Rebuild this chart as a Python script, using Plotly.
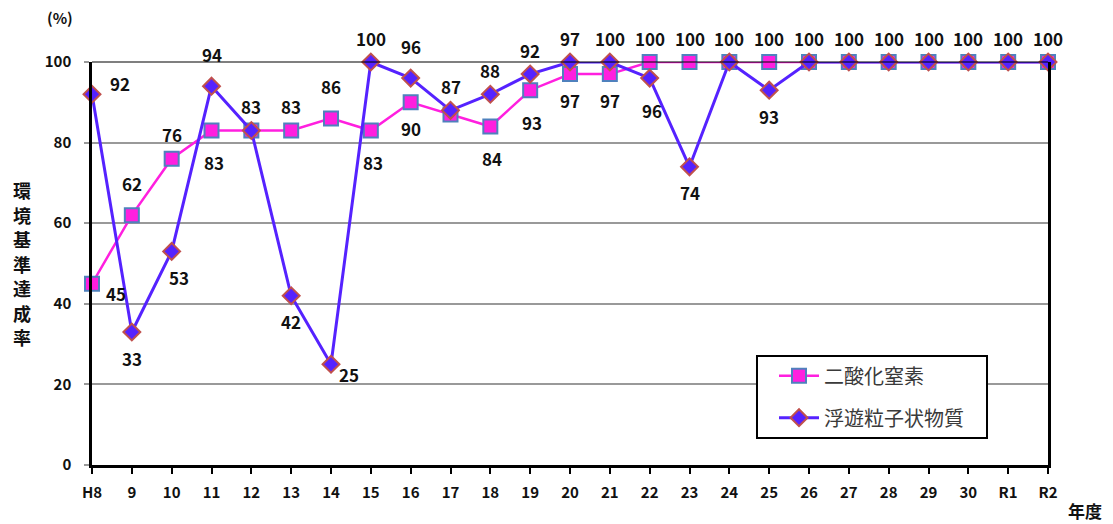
import plotly.graph_objects as go

years = ["H8", "9", "10", "11", "12", "13", "14", "15", "16", "17", "18", "19", "20",
         "21", "22", "23", "24", "25", "26", "27", "28", "29", "30", "R1", "R2"]
no2 = [45, 62, 76, 83, 83, 83, 86, 83, 90, 87, 84, 93, 97,
       97, 100, 100, 100, 100, 100, 100, 100, 100, 100, 100, 100]
spm = [92, 33, 53, 94, 83, 42, 25, 100, 96, 88, 92, 97, 100,
       100, 96, 74, 100, 93, 100, 100, 100, 100, 100, 100, 100]
# data-label texts as printed on the chart (None = no label)
no2_labels = ["45", "62", "76", "83", None, "83", "86", "83", "90", None, "84", "93", "97",
              "97", "100", "100", "100", "100", "100", "100", "100", "100", "100", "100", "100"]
spm_labels = ["92", "33", "53", "94", "83", "42", "25", "100", "96", "87", "88", "92", "97",
              "100", "96", "74", None, "93", None, None, None, None, None, None, None]

# label placement codes (style only)
no2_pos = ["r", "T", "t", "B", None, "t", "T", "B", "b", None, "B", "B", "b",
           "b", "t", "t", "t", "t", "t", "t", "t", "t", "t", "t", "t"]
spm_pos = ["R", "b", "br", "T", "t", "b", "rb", "t", "T", "t", "t", "t", "t",
           "t", "B", "b", None, "b", None, None, None, None, None, None, None]
offsets = {"t": (0, -24), "T": (0, -32), "b": (0, 26), "B": (2, 32),
           "r": (24, 10), "R": (28, -11), "br": (7, 26), "rb": (18, 10)}

y_title = "環境基準達成率"

NO2_COLOR = "#FF1FDF"
SPM_COLOR = "#5522FF"
FONT = "Noto Sans CJK JP"

fig = go.Figure()
fig.add_trace(go.Scatter(
    x=years, y=no2, name="二酸化窒素", mode="lines+markers",
    line=dict(color=NO2_COLOR, width=2.5),
    marker=dict(symbol="square", size=14, color=NO2_COLOR,
                line=dict(color="#4F81BD", width=2)),
    cliponaxis=False, legendgroup="a"))
fig.add_trace(go.Scatter(
    x=years, y=spm, name="浮遊粒子状物質", mode="lines+markers",
    line=dict(color=SPM_COLOR, width=3),
    marker=dict(symbol="diamond", size=13, color=SPM_COLOR,
                line=dict(color="#C0504D", width=2)),
    cliponaxis=False, legendgroup="b"))

annotations = []
for vals, labs, pos in ((no2, no2_labels, no2_pos), (spm, spm_labels, spm_pos)):
    for i, (v, t, p) in enumerate(zip(vals, labs, pos)):
        if t is None or p is None:
            continue
        dx, dy = offsets[p]
        annotations.append(dict(
            x=i, y=v, xref="x", yref="y", text=t, showarrow=False,
            xshift=dx, yshift=-dy,
            font=dict(family=FONT, size=17, color="#111111", weight="bold")))

annotations.append(dict(text="(%)", xref="paper", yref="paper", x=-0.033, y=1.11,
                        showarrow=False, xanchor="center", yanchor="middle",
                        font=dict(family=FONT, size=15, color="#111111", weight="bold")))
n = len(y_title)
for k, ch in enumerate(y_title):
    annotations.append(dict(text=ch, xref="paper", yref="paper", borderpad=0,
                            x=-0.073, y=0.5, yshift=(n - 1) / 2 * 24.5 - k * 24.5,
                            showarrow=False, xanchor="center", yanchor="middle",
                            font=dict(family=FONT, size=18, color="#111111", weight="bold")))
annotations.append(dict(text="年度", xref="paper", yref="paper", x=1.039, y=-0.112,
                        showarrow=False, xanchor="center", yanchor="middle",
                        font=dict(family=FONT, size=17, color="#111111", weight="bold")))

fig.update_layout(
    width=1113, height=524,
    margin=dict(l=84, r=73, t=54, b=67),
    paper_bgcolor="white", plot_bgcolor="white",
    showlegend=True,
    legend=dict(x=0.7134, y=0.27, xanchor="left", yanchor="top",
                bgcolor="rgba(0,0,0,0)", borderwidth=0,
                font=dict(family=FONT, size=20, color="#3a3a3a"),
                traceorder="grouped", tracegroupgap=13, itemwidth=40),
    annotations=annotations,
    shapes=[
        dict(type="line", xref="paper", yref="paper", x0=0, x1=1, y0=1, y1=1,
             line=dict(color="black", width=1.2)),
        dict(type="rect", xref="paper", yref="paper", x0=0.6956, x1=0.9362,
             y0=0.067, y1=0.2705, fillcolor="white", layer="above",
             line=dict(color="black", width=2)),
    ],
)
fig.update_xaxes(type="category", range=[0, 24], showgrid=False,
                 showline=True, linecolor="black", linewidth=2.5,
                 ticks="outside", ticklen=6, tickwidth=2, tickcolor="black",
                 ticklabelstandoff=6,
                 tickfont=dict(family=FONT, size=15, color="#111111", weight="bold"))
fig.update_yaxes(range=[0, 100], dtick=20, showgrid=True, gridcolor="#999999", gridwidth=1.5,
                 showline=True, linecolor="black", linewidth=2.5, mirror=True,
                 ticks="outside", ticklen=5, tickwidth=1.5, tickcolor="#999999",
                 ticklabelstandoff=10, zeroline=False,
                 tickfont=dict(family=FONT, size=15, color="#111111", weight="bold"))

fig.write_html("out.html")
